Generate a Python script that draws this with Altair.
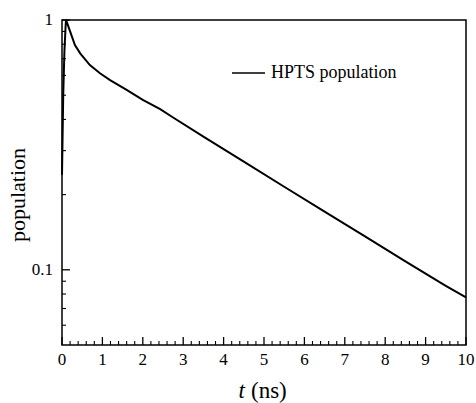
import altair as alt
import pandas as pd

# HPTS population decay (semi-log)
t_ns = [0.0, 0.03, 0.06, 0.09, 0.1, 0.14, 0.2, 0.32, 0.45, 0.69, 0.94, 1.19,
        1.6, 2.0, 2.43, 2.75, 3.5, 4.5, 5.5, 6.5, 7.5, 8.5, 9.5, 10.0]
population = [0.24, 0.5, 0.75, 0.95, 1.0, 0.96, 0.9, 0.794, 0.735, 0.66, 0.612, 0.575,
              0.525, 0.479, 0.44, 0.407, 0.341, 0.271, 0.215, 0.171, 0.136,
              0.108, 0.0863, 0.0775]

x_major = list(range(11))
x_labels = [str(v) for v in x_major]
x_minor = [round(i * 0.2, 1) for i in range(51) if i % 5]
y_major = [0.1, 1.0]
y_labels = ["0.1", "1"]
y_minor = [0.06, 0.07, 0.08, 0.09, 0.2, 0.3, 0.4, 0.5, 0.6, 0.7, 0.8, 0.9]

W, H = 404, 325
FONT = "Liberation Serif"

x_scale = alt.Scale(domain=[0, 10], nice=False, zero=False)
y_scale = alt.Scale(type="log", domain=[0.05, 1], nice=False)

curve = alt.Chart(pd.DataFrame({"t": t_ns, "p": population})).mark_line(
    color="black", strokeWidth=2).encode(
    x=alt.X("t:Q", scale=x_scale, axis=None),
    y=alt.Y("p:Q", scale=y_scale, axis=None),
)

# inward ticks on the bottom edge
xmaj = alt.Chart(pd.DataFrame({"t": x_major})).mark_rule(color="black", strokeWidth=1.3).encode(
    x=alt.X("t:Q", scale=x_scale, axis=None), y=alt.value(H), y2=alt.value(H - 8))
xmin = alt.Chart(pd.DataFrame({"t": x_minor})).mark_rule(color="black", strokeWidth=1.1).encode(
    x=alt.X("t:Q", scale=x_scale, axis=None), y=alt.value(H), y2=alt.value(H - 4))

# inward ticks on the left edge
ymaj = alt.Chart(pd.DataFrame({"p": y_major})).mark_rule(color="black", strokeWidth=1.3).encode(
    y=alt.Y("p:Q", scale=y_scale, axis=None), x=alt.value(0), x2=alt.value(8))
ymin = alt.Chart(pd.DataFrame({"p": y_minor})).mark_rule(color="black", strokeWidth=1.1).encode(
    y=alt.Y("p:Q", scale=y_scale, axis=None), x=alt.value(0), x2=alt.value(4))

# tick labels
xlab = alt.Chart(pd.DataFrame({"t": x_major, "lab": x_labels})).mark_text(
    font=FONT, fontSize=17, color="black", baseline="top", align="center").encode(
    x=alt.X("t:Q", scale=x_scale, axis=None), y=alt.value(H + 7), text="lab:N")
ylab = alt.Chart(pd.DataFrame({"p": y_major, "lab": y_labels})).mark_text(
    font=FONT, fontSize=17, color="black", baseline="middle", align="right").encode(
    y=alt.Y("p:Q", scale=y_scale, axis=None), x=alt.value(-9), text="lab:N")

# y-axis title
ytitle = alt.Chart(pd.DataFrame({"k": [0]})).mark_text(
    text="population", angle=270, align="center", baseline="middle", font=FONT,
    fontSize=22, color="black").encode(x=alt.value(-44), y=alt.value(175))

# legend
leg_line = alt.Chart(pd.DataFrame({"k": [0]})).mark_rule(color="black", strokeWidth=1.6).encode(
    x=alt.value(170), x2=alt.value(203), y=alt.value(53))
leg_text = alt.Chart(pd.DataFrame({"k": [0]})).mark_text(
    text="HPTS population", align="left", baseline="middle", font=FONT, fontSize=18,
    color="black").encode(x=alt.value(209), y=alt.value(53))

# x-axis title with italic t
xt1 = alt.Chart(pd.DataFrame({"k": [0]})).mark_text(
    text="t", align="right", baseline="alphabetic", font=FONT, fontSize=23,
    fontStyle="italic", color="black").encode(x=alt.value(183), y=alt.value(378))
xt2 = alt.Chart(pd.DataFrame({"k": [0]})).mark_text(
    text="(ns)", align="left", baseline="alphabetic", font=FONT, fontSize=23,
    color="black").encode(x=alt.value(189), y=alt.value(378))

chart = alt.layer(
    curve, xmaj, xmin, ymaj, ymin, xlab, ylab, ytitle, leg_line, leg_text, xt1, xt2
).properties(
    width=W, height=H,
    autosize=alt.AutoSizeParams(type="none"),
    padding={"left": 62, "top": 20, "right": 10, "bottom": 58},
    background="white",
).configure_view(
    stroke="black", strokeWidth=1.5
)

chart.save("out.html", embed_options={"renderer": "svg", "actions": False})
